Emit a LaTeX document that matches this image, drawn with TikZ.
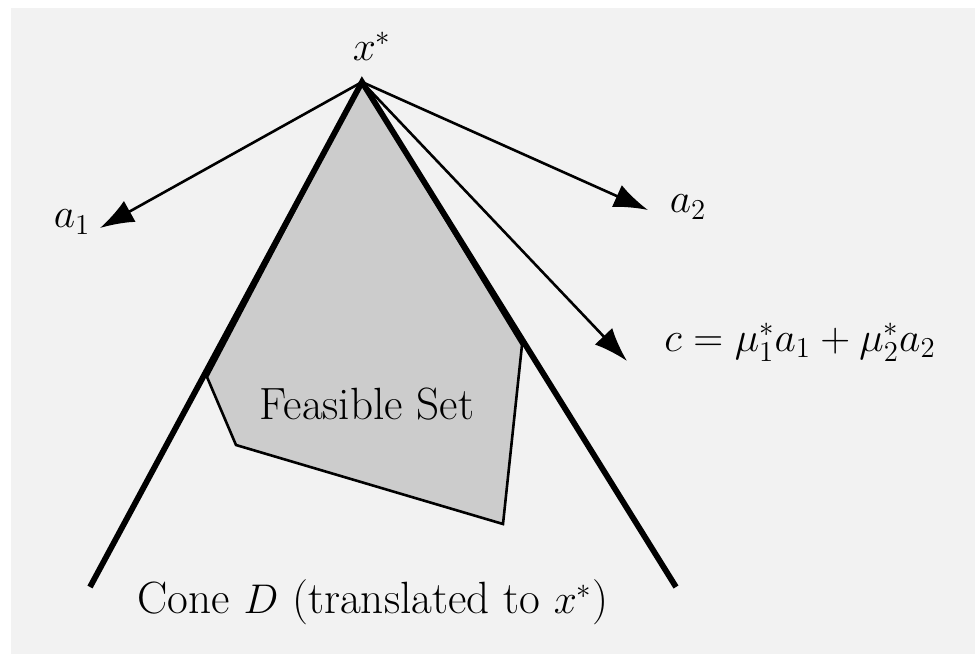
\documentclass[tikz,border=0pt]{standalone}
\usepackage{tikz}
\usetikzlibrary{arrows.meta}

\definecolor{bggray}{HTML}{F2F2F2}
\definecolor{setgray}{HTML}{CCCCCC}

\begin{document}
\begin{tikzpicture}[
    x=0.5pt, y=-0.5pt,
    every node/.style={font=\fontsize{22.6}{27}\selectfont, inner sep=0pt},
    cone/.style={line width=2.9pt, line cap=butt},
    vec/.style={-{Latex[length=17pt, width=12pt]}, line width=1.3pt},
    feas/.style={fill=setgray, draw=black, line width=1.3pt, line join=miter}
  ]
    \useasboundingbox (0,0) rectangle (975,654);
    \fill[bggray] (11,8) rectangle (975,654);

    % apex and corners
    \coordinate (apex) at (362,82);
    \coordinate (coneL) at (90,587);
    \coordinate (coneR) at (676,587);
    \coordinate (pL) at (207,377);
    \coordinate (pB1) at (236,445);
    \coordinate (pB2) at (503,524);
    \coordinate (pR) at (522,345);

    % feasible set
    \filldraw[feas] (apex) -- (pL) -- (pB1) -- (pB2) -- (pR) -- cycle;
    \node (feasible) at (367,404) {Feasible Set};

    % cone D
    \draw[cone] (coneL) -- (apex) -- (coneR);

    % labels
    \node (xstar) at (372,46) {$x^*$};
    \node (a1) at (72,222) {$a_1$};
    \node (a2) at (688,207) {$a_2$};
    \node (c) at (800,342) {$c = \mu_1^* a_1 + \mu_2^* a_2$};
    \node (cone) at (373,602) {Cone $D$ (translated to $x^*$)};

    % vectors
    \coordinate (a1tip) at (100,228);
    \coordinate (a2tip) at (648,210);
    \coordinate (ctip) at (627,361);
    \draw[vec] (apex) -- (a1tip);
    \draw[vec] (apex) -- (a2tip);
    \draw[vec] (apex) -- (ctip);
  \end{tikzpicture}
\end{document}
